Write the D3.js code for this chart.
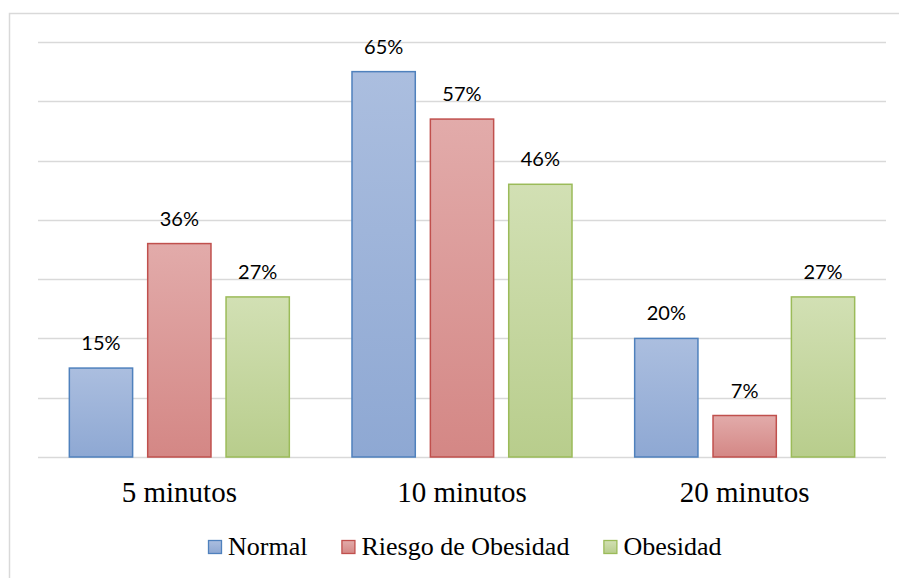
<!DOCTYPE html>
<html>
<head>
<meta charset="utf-8">
<script src="https://cdn.jsdelivr.net/npm/d3@7"></script>
<style>
  html, body { margin: 0; padding: 0; background: #fff; }
  svg { display: block; }
</style>
</head>
<body>
<svg id="fig" width="899" height="578"></svg>
<script>
// Chart data
const categories = ["5 minutos", "10 minutos", "20 minutos"];
const seriesNames = ["Normal", "Riesgo de Obesidad", "Obesidad"];
const normalValues = [15, 65, 20];
const riesgoValues = [36, 57, 7];
const obesidadValues = [27, 46, 27];
const gridTicks = [0, 10, 20, 30, 40, 50, 60, 70];

const seriesValues = [normalValues, riesgoValues, obesidadValues];
const palette = [
  { top: "#abbedf", bottom: "#8ea8d3", stroke: "#4f81bd" },
  { top: "#e2abaa", bottom: "#d48785", stroke: "#c0504d" },
  { top: "#d2e0b4", bottom: "#b8cd8c", stroke: "#9bbb59" }
];

const SERIF = '"Liberation Serif", "Times New Roman", serif';
const SANS = '"Lato", sans-serif';

const svg = d3.select("#fig");
const plot = { left: 38, right: 886, top: 42, bottom: 457 };

// Chart border
svg.append("path")
  .attr("d", "M9.5,578 V13.5 H899")
  .attr("fill", "none")
  .attr("stroke", "#d9d9d9")
  .attr("stroke-width", 1.5);

const y = d3.scaleLinear().domain([0, 70]).range([plot.bottom, plot.top]);
const x0 = d3.scaleBand().domain(categories).range([plot.left, plot.right]).paddingInner(0).paddingOuter(0);
// Inner band inside each category: 3 bars of 63px with 15px gaps
const x1 = d3.scaleBand().domain(seriesNames)
  .range([x0.bandwidth() / 2 - 110, x0.bandwidth() / 2 + 110])
  .paddingInner(15 / 78).paddingOuter(0);

// Gradients
const defs = svg.append("defs");
palette.forEach((p, i) => {
  const g = defs.append("linearGradient").attr("id", "grad" + i)
    .attr("x1", 0).attr("y1", 0).attr("x2", 0).attr("y2", 1);
  g.append("stop").attr("offset", "0%").attr("stop-color", p.top);
  g.append("stop").attr("offset", "100%").attr("stop-color", p.bottom);
});

// Gridlines
svg.append("g").selectAll("line").data(gridTicks).join("line")
  .attr("x1", plot.left).attr("x2", plot.right)
  .attr("y1", d => Math.round(y(d)) + 0.5).attr("y2", d => Math.round(y(d)) + 0.5)
  .attr("stroke", "#d9d9d9").attr("stroke-width", 1.5);

// Bars with value labels
const groups = svg.append("g").selectAll("g").data(categories).join("g")
  .attr("transform", c => `translate(${x0(c)},0)`);

groups.each(function(c, ci) {
  const g = d3.select(this);
  seriesNames.forEach((s, si) => {
    const v = seriesValues[si][ci];
    g.append("rect")
      .attr("x", x1(s))
      .attr("y", y(v))
      .attr("width", x1.bandwidth())
      .attr("height", plot.bottom - y(v))
      .attr("fill", `url(#grad${si})`)
      .attr("stroke", palette[si].stroke)
      .attr("stroke-width", 1.5);
    g.append("text")
      .attr("x", x1(s) + x1.bandwidth() / 2)
      .attr("y", y(v) - 18)
      .attr("text-anchor", "middle")
      .style("font-family", SANS, "important")
      .style("font-size", "20px")
      .attr("fill", "#000")
      .text(v + "%");
  });
});

// Category axis labels
svg.append("g").selectAll("text").data(categories).join("text")
  .attr("x", c => x0(c) + x0.bandwidth() / 2)
  .attr("y", 502)
  .attr("text-anchor", "middle")
  .style("font-family", SERIF, "important")
  .style("font-size", "29px")
  .attr("fill", "#000")
  .text(c => c);

// Legend: swatch, label, then a gap before the next entry
const legend = svg.append("g");
let lx = 208;
seriesNames.forEach((name, i) => {
  legend.append("rect")
    .attr("x", lx + 0.5).attr("y", 540.5).attr("width", 13).attr("height", 13)
    .attr("fill", `url(#grad${i})`)
    .attr("stroke", palette[i].stroke)
    .attr("stroke-width", 1.3);
  const t = legend.append("text")
    .attr("x", lx + 20).attr("y", 555)
    .style("font-family", SERIF, "important")
    .style("font-size", "26px")
    .attr("fill", "#000")
    .text(name);
  lx += 20 + t.node().getComputedTextLength() + 34;
});
</script>
</body>
</html>
